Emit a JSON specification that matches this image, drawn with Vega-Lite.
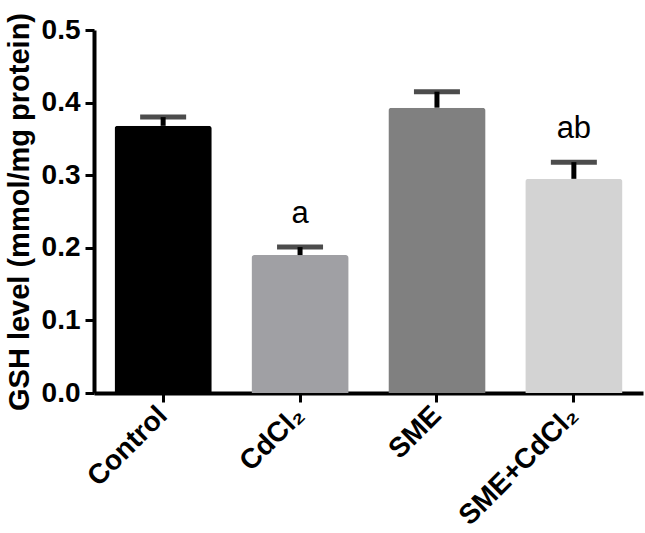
{
  "$schema": "https://vega.github.io/schema/vega-lite/v6.json",
  "width": 549,
  "height": 363,
  "autosize": "none",
  "padding": {"left": 94, "top": 30, "right": 2, "bottom": 140},
  "background": "white",
  "config": {"view": {"stroke": null}, "font": "Liberation Sans"},
  "data": {
    "values": [
      {"group": "Control", "mean": 0.368, "upper": 0.380, "sig": ""},
      {"group": "CdCl₂", "mean": 0.190, "upper": 0.201, "sig": "a"},
      {"group": "SME", "mean": 0.393, "upper": 0.415, "sig": ""},
      {"group": "SME+CdCl₂", "mean": 0.295, "upper": 0.318, "sig": "ab"}
    ]
  },
  "encoding": {
    "x": {
      "field": "group",
      "type": "nominal",
      "sort": null,
      "scale": {"paddingInner": 0.29, "paddingOuter": 0.15},
      "axis": {
        "title": null,
        "domainColor": "black",
        "domainWidth": 4,
        "tickColor": "black",
        "tickWidth": 3,
        "tickSize": 9,
        "labelAngle": -45,
        "labelAlign": "right",
        "labelBaseline": "middle",
        "labelFont": "Liberation Sans",
        "labelFontWeight": "bold",
        "labelFontSize": 28,
        "labelColor": "black",
        "labelPadding": 9
      }
    }
  },
  "layer": [
    {
      "mark": {"type": "bar", "cornerRadiusTopLeft": 3, "cornerRadiusTopRight": 3},
      "encoding": {
        "y": {
          "field": "mean",
          "type": "quantitative",
          "scale": {"domain": [0, 0.5], "nice": false},
          "axis": {
            "values": [0, 0.1, 0.2, 0.3, 0.4, 0.5],
            "format": ".1f",
            "grid": false,
            "domainColor": "black",
            "domainWidth": 4,
            "tickColor": "black",
            "tickWidth": 3,
            "tickSize": 9,
            "labelFont": "Liberation Sans",
            "labelFontWeight": "bold",
            "labelFontSize": 28,
            "labelColor": "black",
            "labelPadding": 5,
            "title": "GSH level (mmol/mg protein)",
            "titleFont": "Liberation Sans",
            "titleFontWeight": "bold",
            "titleFontSize": 29,
            "titleColor": "black",
            "titlePadding": 7
          }
        },
        "color": {
          "field": "group",
          "type": "nominal",
          "sort": null,
          "scale": {
            "domain": ["Control", "CdCl₂", "SME", "SME+CdCl₂"],
            "range": ["#000000", "#A0A0A4", "#808080", "#D3D3D3"]
          },
          "legend": null
        }
      }
    },
    {
      "mark": {"type": "rule", "strokeWidth": 5, "color": "black"},
      "encoding": {
        "y": {"field": "mean", "type": "quantitative"},
        "y2": {"field": "upper"}
      }
    },
    {
      "mark": {"type": "tick", "thickness": 5, "size": 46, "color": "black"},
      "encoding": {
        "y": {"field": "upper", "type": "quantitative"}
      }
    },
    {
      "mark": {"type": "text", "fontSize": 31, "font": "Liberation Sans", "baseline": "alphabetic", "dy": -24, "color": "black"},
      "encoding": {
        "y": {"field": "upper", "type": "quantitative"},
        "text": {"field": "sig"}
      }
    }
  ]
}
